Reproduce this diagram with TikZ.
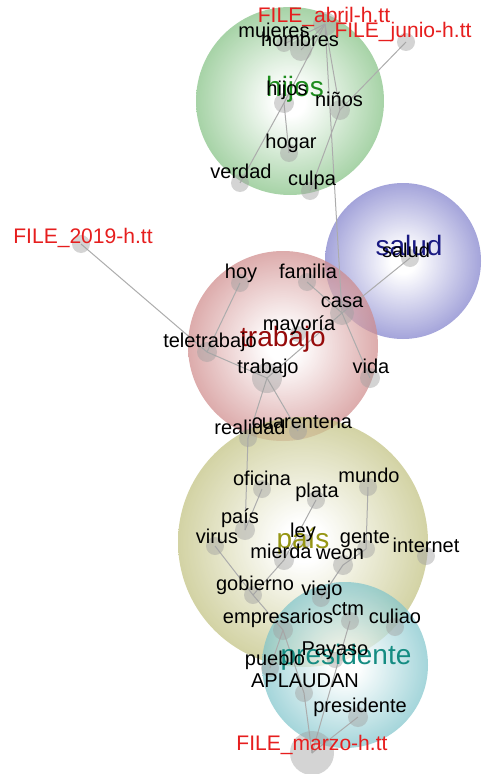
\documentclass[tikz,border=0pt]{standalone}
\usepackage{fontspec}
\setmainfont{Liberation Sans}
\definecolor{hijosc}{RGB}{75,165,75}
\definecolor{saludc}{RGB}{70,70,180}
\definecolor{trabajoc}{RGB}{185,85,85}
\definecolor{paisc}{RGB}{165,165,70}
\definecolor{presic}{RGB}{70,170,180}
\definecolor{hijost}{RGB}{30,140,30}
\definecolor{saludt}{RGB}{25,25,130}
\definecolor{trabajot}{RGB}{150,10,10}
\definecolor{paist}{RGB}{150,150,20}
\definecolor{presit}{RGB}{20,140,130}
\definecolor{filered}{RGB}{230,30,30}
\colorlet{clustc}{gray}
\pgfdeclareradialshading[clustc]{cluster}{\pgfpoint{0bp}{0bp}}{color(0bp)=(white); color(4bp)=(white); color(34bp)=(clustc); color(50bp)=(clustc)}
\pgfdeclarelayer{back}
\pgfdeclarelayer{links}
\pgfsetlayers{back,links,main}

\begin{document}
\begin{tikzpicture}[x=0.75pt,y=-0.75pt,
    cluster/.style={/utils/exec={\colorlet{clustc}{#1}},shading=cluster,opacity=0.7},
    dot/.style={circle,inner sep=0pt,fill=gray!75,fill opacity=0.45,minimum size=#1},
    dot/.default=13.5pt,
    link/.style={draw=gray!65,line width=0.75pt},
    word/.style={font=\fontsize{15}{15}\selectfont,text height=10.5pt,text depth=3pt,inner sep=0pt},
    file/.style={word,text=filered,font=\fontsize{15.8}{16}\selectfont},
    topic/.style={font=\fontsize{21}{21}\selectfont,text height=14.5pt,text depth=4.5pt,inner sep=0pt,text=#1}]
  \useasboundingbox (0,0) rectangle (490,774);

  % clusters
  \begin{pgfonlayer}{back}
    \shade[cluster=hijosc] (290,101) circle[radius=70.5pt];
    \shade[cluster=saludc] (403,261) circle[radius=58.5pt];
    \shade[cluster=trabajoc] (283,346) circle[radius=71.25pt];
    \shade[cluster=paisc] (303,542) circle[radius=93.75pt];
    \shade[cluster=presic] (345,665) circle[radius=62.25pt];
  \end{pgfonlayer}

  % terms
  \foreach \n/\x/\y/\s in {abril/325/24/18pt,junio/406/42/13.5pt,mujeres/284/44/12pt,
      hombres/301/50/16.5pt,hijos/284/103/15pt,ninos/340/110/15pt,hogar/289/153/13.5pt,
      verdad/240/183/13.5pt,culpa/310/191/13.5pt,salud/410/258/13.5pt,y2019/81/244/13.5pt,
      hoy/240/283/13.5pt,familia/307/282/13.5pt,casa/342/313/18pt,mayoria/298/334/12pt,
      tele/207/352/15pt,trabajo/267/378/22.5pt,vida/370/378/15pt,realidad/248/438/13.5pt,
      cuarentena/298/431/13.5pt,oficina/262/489/13.5pt,plata/316/500/13.5pt,
      mundo/368/487/13.5pt,pais/245/530/15pt,virus/215/546/13.5pt,ley/305/541/10.5pt,
      gente/366/549/13.5pt,internet/426/556/13.5pt,mierda/284/560/15pt,weon/343/565/15pt,
      gobierno/253/595/13.5pt,viejo/321/598/13.5pt,empresarios/283/630/15pt,
      ctm/350/621/13.5pt,culiao/395/627/13.5pt,payaso/335/660/12pt,pueblo/270/668/13.5pt,
      aplaudan/304/693/13.5pt,presidente/358/717/15pt,marzo/312/753/33pt}
    \node[dot=\s] (\n) at (\x,\y) {};

  \begin{pgfonlayer}{links}
    \foreach \a/\b in {abril/hombres,abril/mujeres,abril/hijos,hijos/verdad,hijos/hogar,
        abril/ninos,junio/ninos,ninos/culpa,abril/casa,
        y2019/tele,tele/trabajo,hoy/tele,familia/casa,casa/vida,casa/salud,casa/trabajo,
        trabajo/realidad,trabajo/cuarentena,realidad/pais,
        oficina/pais,virus/gobierno,gobierno/empresarios,plata/mierda,mierda/gobierno,
        mundo/gente,gente/weon,weon/viejo,empresarios/pueblo,empresarios/aplaudan,
        aplaudan/marzo,ctm/marzo,presidente/marzo}
      \draw[link] (\a.center) -- (\b.center);
  \end{pgfonlayer}

  % cluster names
  \node[topic=hijost] (hijos-c) at (295,90) {hijos};
  \node[topic=saludt] (salud-c) at (409,249) {salud};
  \node[topic=trabajot] (trabajo-c) at (283,340) {trabajo};
  \node[topic=paist] (pais-c) at (303,542) {país};
  \node[topic=presit] (presidente-c) at (346,658) {presidente};

  % labels
  \foreach \n/\x/\y/\t in {mujeres/274/33/mujeres,hombres/300/42/hombres,hijos/287/90/hijos,
      ninos/339/102/niños,hogar/291/143/hogar,verdad/241/173/verdad,culpa/312/180/culpa,
      salud/406/252/salud,hoy/241/273/hoy,familia/308/273/familia,casa/342/302/casa,
      mayoria/299/325/mayoría,tele/210/342/teletrabajo,trabajo/268/368/trabajo,
      vida/371/368/vida,realidad/250/429/realidad,cuarentena/302/423/cuarentena,
      oficina/262/480/oficina,plata/317/492/plata,mundo/369/477/mundo,pais/240/518/país,
      virus/217/538/virus,ley/303/532/ley,gente/365/538/gente,internet/426/547/internet,
      mierda/281/553/mierda,weon/340/554/weon,gobierno/255/585/gobierno,viejo/322/590/viejo,
      empresarios/278/618/empresarios,ctm/348/610/ctm,culiao/395/618/culiao,
      payaso/335/650/Payaso,pueblo/275/660/pueblo,aplaudan/305/682/APLAUDAN,
      presidente/360/707/presidente}
    \node[word] (\n-t) at (\x,\y) {\t};
  \node[file] (abril-t) at (324,18) {FILE\_abril-h.tt};
  \node[file] (junio-t) at (403,33) {FILE\_junio-h.tt};
  \node[file] (y2019-t) at (83,238) {FILE\_2019-h.tt};
  \node[file] (marzo-t) at (312,745) {FILE\_marzo-h.tt};
\end{tikzpicture}
\end{document}
